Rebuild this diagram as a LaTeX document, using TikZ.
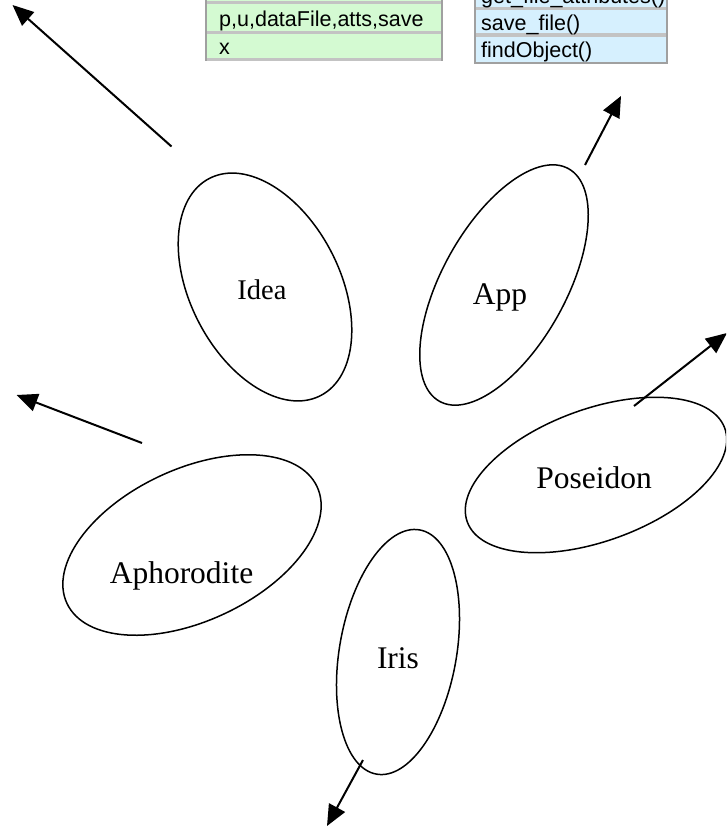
\documentclass[tikz,border=0pt]{standalone}
\usepackage{fontspec}
\setmainfont{Liberation Serif}
\newfontfamily\tabfont{Liberation Sans}
\usetikzlibrary{shapes.geometric,arrows.meta}
\definecolor{rowgreen}{RGB}{212,250,210}
\definecolor{rowblue}{RGB}{214,240,254}
\definecolor{sepgrey}{RGB}{195,195,195}
\definecolor{bordergrey}{RGB}{160,160,160}
\begin{document}
\begin{tikzpicture}[x=1pt,y=-1pt,
  petal/.style={draw, ellipse, line width=1.5pt, inner sep=0pt},
  lbl/.style={anchor=base, inner sep=0pt, font=\fontsize{31.5}{32}\selectfont},
  arr/.style={line width=2pt, -{Triangle[length=21pt,width=18pt]}},
  cell/.style={anchor=base west, inner sep=0pt, font=\tabfont\fontsize{21.5}{22}\selectfont}]
\useasboundingbox (0,0) rectangle (726,827);
\clip (0,0) rectangle (726,827);
% green table
\fill[rowgreen] (205,-20) rectangle (443,60);
\fill[sepgrey] (205,1) rectangle (443,4);
\fill[sepgrey] (205,31) rectangle (443,34);
\fill[sepgrey] (205,58) rectangle (443,61);
\draw[bordergrey, line width=2pt] (206,-20) -- (206,61);
\draw[bordergrey, line width=2pt] (442,-20) -- (442,61);
\node[cell] (g1) at (219,26) {p,u,dataFile,atts,save};
\node[cell] (g2) at (219,54) {x};
% blue table
\fill[rowblue] (474,-20) rectangle (668,64);
\fill[sepgrey] (474,7) rectangle (668,10);
\fill[sepgrey] (474,33) rectangle (668,37);
\draw[bordergrey, line width=2pt] (474,62.5) -- (668,62.5);
\draw[bordergrey, line width=2pt] (475,-20) -- (475,63.5);
\draw[bordergrey, line width=2pt] (667,-20) -- (667,63.5);
\node[cell] (b0) at (481,3) {get\_file\_attributes()};
\node[cell] (b1) at (481,30) {save\_file()};
\node[cell] (b2) at (481,57) {findObject()};
% petals
\node[petal, minimum width=244pt, minimum height=150pt, rotate=-63] (ideaE) at (265,287) {};
\node[petal, minimum width=266pt, minimum height=124pt, rotate=61] (appE) at (504,285) {};
\node[petal, minimum width=274pt, minimum height=132pt, rotate=20] (poseE) at (596,475) {};
\node[petal, minimum width=276pt, minimum height=152pt, rotate=25] (aphE) at (192,545) {};
\node[petal, minimum width=248pt, minimum height=117pt, rotate=80] (irisE) at (398,652) {};
\node[lbl, font=\fontsize{28.5}{29}\selectfont] (ideaL) at (262,299) {Idea};
\node[lbl] (appL) at (500,304) {App};
\node[lbl] (poseL) at (594,488) {Poseidon};
\node[lbl] (aphL) at (181.5,583) {Aphorodite};
\node[lbl] (irisL) at (398,668) {Iris};
% arrows
\coordinate (ideaA) at (171.5,146.5);
\coordinate (ideaB) at (12.5,5);
\coordinate (appA) at (585,165);
\coordinate (appB) at (621,96);
\coordinate (poseA) at (634,406);
\coordinate (poseB) at (727,333);
\coordinate (aphA) at (142,443);
\coordinate (aphB) at (16.5,395);
\coordinate (irisA) at (363,760);
\coordinate (irisB) at (327,826);
\draw[arr] (ideaA) -- (ideaB);
\draw[arr] (appA) -- (appB);
\draw[arr] (poseA) -- (poseB);
\draw[arr] (aphA) -- (aphB);
\draw[arr] (irisA) -- (irisB);
\end{tikzpicture}
\end{document}
